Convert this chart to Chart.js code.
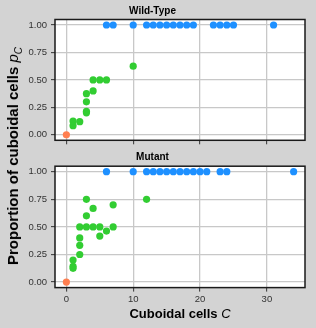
<!DOCTYPE html>
<html><head><meta charset="utf-8">
<script src="https://cdn.jsdelivr.net/npm/chart.js@4"></script>
<style>
html,body{margin:0;padding:0;background:#d3d3d3;}
#wrap{position:relative;width:316px;height:328px;background:#d3d3d3;font-family:"Liberation Sans",Arial,sans-serif;overflow:hidden;}
.panel{position:absolute;left:0;width:316px;}
#ytitle{position:absolute;left:14px;top:156px;transform:translate(-50%,-50%) rotate(-90deg);white-space:nowrap;font-size:15px;font-weight:bold;color:#000;}
#xtitle{position:absolute;left:180px;top:313px;transform:translate(-50%,-50%);white-space:nowrap;font-size:13px;font-weight:bold;color:#000;}
.it{font-style:italic;font-weight:normal;}
</style></head>
<body>
<div id="wrap">
  <div class="panel" style="top:0;height:150px;"><canvas id="c1"></canvas></div>
  <div class="panel" style="top:150px;height:178px;"><canvas id="c2"></canvas></div>
  <div id="ytitle">Proportion of cuboidal cells <span class="it">p<sub style="font-size:10px">C</sub></span></div>
  <div id="xtitle">Cuboidal cells <span class="it">C</span></div>
</div>
<script>
// ---- data ----
const xTickValues = [0, 10, 20, 30];
const yTickValues = [0, 0.25, 0.5, 0.75, 1];

const wtOrangeX = [0];
const wtOrangeY = [0];
const wtGreenX = [1, 1, 2, 3, 3, 3, 3, 4, 4, 5, 6, 10];
const wtGreenY = [0.125, 0.083, 0.12, 0.375, 0.3, 0.2, 0.214, 0.5, 0.4, 0.5, 0.5, 0.625];
const wtBlueX = [6, 7, 10, 12, 13, 14, 15, 16, 17, 18, 19, 22, 23, 24, 25, 31];
const wtBlueY = [1, 1, 1, 1, 1, 1, 1, 1, 1, 1, 1, 1, 1, 1, 1, 1];

const mutOrangeX = [0];
const mutOrangeY = [0];
const mutGreenX = [1, 1, 1, 2, 2, 2, 2, 3, 3, 3, 4, 4, 5, 5, 6, 7, 7, 12];
const mutGreenY = [0.2, 0.143, 0.125, 0.25, 0.333, 0.4, 0.5, 0.5, 0.6, 0.75, 0.5, 0.667, 0.5, 0.417, 0.462, 0.5, 0.7, 0.75];
const mutBlueX = [6, 10, 12, 13, 14, 15, 16, 17, 18, 19, 20, 21, 23, 24, 34];
const mutBlueY = [1, 1, 1, 1, 1, 1, 1, 1, 1, 1, 1, 1, 1, 1, 1];

const COL_ORANGE = '#ff7f50', COL_GREEN = '#32cd32', COL_BLUE = '#1e90ff';
const FONT = '"Liberation Sans", Arial, sans-serif';

function pts(xs, ys){ return xs.map((x,i)=>({x:x, y:ys[i]})); }
function ds(xs, ys, col){
  return {data: pts(xs, ys), backgroundColor: col, borderWidth: 0, pointRadius: 3.6, pointHoverRadius: 3.6};
}

const framePlugin = {
  id: 'frame',
  beforeDraw(chart){
    const a = chart.chartArea, c = chart.ctx;
    c.save(); c.fillStyle = '#ffffff';
    c.fillRect(a.left, a.top, a.right - a.left, a.bottom - a.top);
    c.restore();
  },
  afterDatasetsDraw(chart){
    const a = chart.chartArea, c = chart.ctx;
    c.save(); c.strokeStyle = '#1a1a1a'; c.lineWidth = 1.5;
    c.strokeRect(a.left, a.top, a.right - a.left, a.bottom - a.top);
    c.restore();
  }
};

function makeChart(id, title, datasets, cfg){
  return new Chart(document.getElementById(id), {
    type: 'scatter',
    data: {datasets: datasets},
    plugins: [framePlugin],
    options: {
      responsive: true, maintainAspectRatio: false, animation: false,
      layout: {padding: {left: 0, right: 11, top: 0, bottom: 0}},
      plugins: {
        legend: {display: false}, tooltip: {enabled: false},
        title: {display: true, text: title, color: '#000',
          font: {family: FONT, size: 10, weight: 'bold', lineHeight: 1.2},
          padding: cfg.titlePad}
      },
      scales: {
        x: {
          type: 'linear', min: -1.7, max: 35.7,
          afterBuildTicks: s => { s.ticks = xTickValues.map(v => ({value: v})); },
          afterFit: s => { s.height = cfg.xHeight; },
          grid: {color: '#c8c8c8', lineWidth: 1.3, tickColor: '#333', tickLength: 4, tickWidth: 1},
          border: {display: false},
          ticks: {display: cfg.xLabels, color: '#333', padding: 2,
            font: {family: FONT, size: 9.5}, maxRotation: 0}
        },
        y: {
          type: 'linear', min: -0.05, max: 1.05,
          afterBuildTicks: s => { s.ticks = yTickValues.map(v => ({value: v})); },
          afterFit: s => { s.width = 55; },
          grid: {color: '#c8c8c8', lineWidth: 1.3, tickColor: '#333', tickLength: 4, tickWidth: 1},
          border: {display: false},
          ticks: {color: '#333', padding: 4, font: {family: FONT, size: 9.5},
            callback: v => Number(v).toFixed(2)}
        }
      }
    }
  });
}

makeChart('c1', 'Wild-Type', [
  ds(wtBlueX, wtBlueY, COL_BLUE),
  ds(wtGreenX, wtGreenY, COL_GREEN),
  ds(wtOrangeX, wtOrangeY, COL_ORANGE)
], {titlePad: {top: 5, bottom: 2.5}, xHeight: 8.3, xLabels: false});

makeChart('c2', 'Mutant', [
  ds(mutBlueX, mutBlueY, COL_BLUE),
  ds(mutGreenX, mutGreenY, COL_GREEN),
  ds(mutOrangeX, mutOrangeY, COL_ORANGE)
], {titlePad: {top: 1, bottom: 3.2}, xHeight: 40.4, xLabels: true});
</script>
</body></html>
